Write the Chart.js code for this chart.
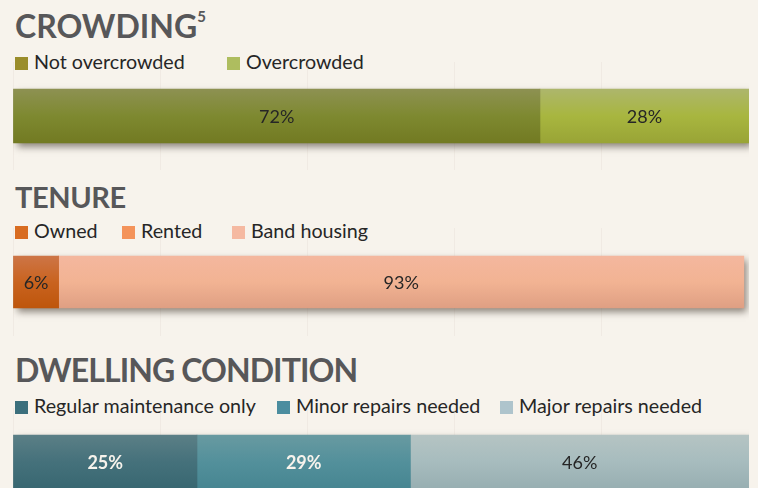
<!DOCTYPE html>
<html>
<head>
<meta charset="utf-8">
<script src="https://cdn.jsdelivr.net/npm/chart.js@4.4.1/dist/chart.umd.min.js"></script>
<style>
html, body { margin: 0; padding: 0; background: #f7f3ec; width: 758px; height: 488px; overflow: hidden; }
body { position: relative; font-family: Lato, "Open Sans", sans-serif; }
.wrap { position: absolute; left: 13px; width: 736px; height: 108px; }
.wrap canvas { display: block; }
h2 { position: absolute; left: 15px; margin: 0; font-weight: 700; color: #575759; white-space: nowrap; line-height: 1; }
h2 sup { font-size: 15px; position: relative; top: -4px; }
.legend { position: absolute; left: 0; width: 758px; height: 22px; font-size: 19.7px; color: #262626; line-height: 22px; }
.legend span { position: absolute; top: 0; white-space: nowrap; }
.legend i { display: inline-block; width: 13px; height: 13px; margin-right: 6px; vertical-align: -1px; }
</style>
</head>
<body>

<h2 id="h1" style="top:10px;font-size:32px">CROWDING<sup>5</sup></h2>
<div class="legend" id="lg1" style="top:51px"></div>
<div class="wrap" style="top:62px"><canvas id="c1" width="736" height="108"></canvas></div>

<h2 id="h2" style="top:182px;font-size:29px;letter-spacing:-0.4px">TENURE</h2>
<div class="legend" id="lg2" style="top:220px"></div>
<div class="wrap" style="top:228px"><canvas id="c2" width="736" height="108"></canvas></div>

<h2 id="h3" style="top:354px;font-size:32px;letter-spacing:-0.9px">DWELLING CONDITION</h2>
<div class="legend" id="lg3" style="top:395px"></div>
<div class="wrap" style="top:408px"><canvas id="c3" width="736" height="108"></canvas></div>

<script>
// values (percent of households)
const crowdingLabels = ['Not overcrowded', 'Overcrowded'];
const crowdingValues = [71.6, 28.4];

const tenureLabels = ['Owned', 'Rented', 'Band housing'];
const tenureValues = [6.2, 0, 93.1];

const conditionLabels = ['Regular maintenance only', 'Minor repairs needed', 'Major repairs needed'];
const conditionValues = [25, 29, 46];

// colours: legend swatch, and top / middle / bottom of each bar segment
const crowdingSwatch = ['#9a8d2b', '#aebd5f'];
const crowdingShade = [['#8d9152', '#7e8930', '#727a22'], ['#adb66c', '#a8b63f', '#99a436']];
const tenureSwatch = ['#d86c21', '#f4935a', '#f5b9a1'];
const tenureShade = [['#cd7546', '#c9631f', '#be560c'], ['#f6a06c', '#f4935a', '#e5824a'], ['#f4b79e', '#f2b393', '#df9f83']];
const conditionSwatch = ['#3b6f7c', '#4b8d9f', '#aec4cc'];
const conditionShade = [['#5b7f86', '#45717b', '#386771'], ['#689aa1', '#53909b', '#468591'], ['#b5c4c3', '#a7bcbe', '#97aeb1']];

function buildLegend(id, labels, colors, lefts) {
    const el = document.getElementById(id);
    labels.forEach((l, i) => {
        const s = document.createElement('span');
        s.style.left = lefts[i] + 'px';
        s.innerHTML = '<i style="background:' + colors[i] + '"></i>' + l;
        el.appendChild(s);
    });
}

buildLegend('lg1', crowdingLabels, crowdingSwatch, [15, 227]);
buildLegend('lg2', tenureLabels, tenureSwatch, [15, 122, 232]);
buildLegend('lg3', conditionLabels, conditionSwatch, [15, 277, 500]);

// soft drop shadow behind the whole stacked bar
const barShadow = {
    id: 'barShadow',
    beforeDatasetsDraw(chart) {
        let left = Infinity, right = -Infinity, top = 0, bottom = 0;
        chart.data.datasets.forEach((ds, i) => {
            chart.getDatasetMeta(i).data.forEach(el => {
                const p = el.getProps(['x', 'y', 'base', 'height'], true);
                left = Math.min(left, p.base, p.x);
                right = Math.max(right, p.base, p.x);
                top = p.y - p.height / 2;
                bottom = p.y + p.height / 2;
            });
        });
        const c = chart.ctx;
        c.save();
        c.shadowColor = 'rgba(70,60,50,0.6)';
        c.shadowBlur = 7;
        c.shadowOffsetX = 3;
        c.shadowOffsetY = 4;
        c.fillStyle = '#888';
        c.fillRect(left, top, right - left, bottom - top);
        c.restore();
    }
};

// percentage text in the middle of each segment
const segLabels = {
    id: 'segLabels',
    afterDatasetsDraw(chart, args, opts) {
        const c = chart.ctx;
        c.save();
        c.textAlign = 'center';
        c.textBaseline = 'middle';
        chart.data.datasets.forEach((ds, i) => {
            chart.getDatasetMeta(i).data.forEach((el, j) => {
                const v = ds.data[j];
                if (!v) return;
                const p = el.getCenterPoint();
                const st = opts.styles[i];
                c.font = st.font;
                c.fillStyle = st.color;
                c.fillText(Math.round(v) + '%', p.x, p.y + 1);
            });
        });
        c.restore();
    }
};

function makeBar(id, labels, values, shades, thickness, styles) {
    const datasets = labels.map((l, i) => ({
        label: l,
        data: [values[i]],
        barThickness: thickness,
        borderWidth: 0,
        backgroundColor: (context) => {
            const chart = context.chart;
            if (!chart.chartArea) return shades[i][1];
            const mid = (chart.chartArea.top + chart.chartArea.bottom) / 2;
            const g = chart.ctx.createLinearGradient(0, mid - thickness / 2, 0, mid + thickness / 2);
            g.addColorStop(0, shades[i][0]);
            g.addColorStop(0.5, shades[i][1]);
            g.addColorStop(1, shades[i][2]);
            return g;
        }
    }));

    new Chart(document.getElementById(id), {
        type: 'bar',
        data: { labels: [''], datasets: datasets },
        options: {
            indexAxis: 'y',
            responsive: false,
            animation: false,
            layout: { padding: 0 },
            scales: {
                x: {
                    stacked: true, min: 0, max: 100,
                    ticks: { display: false, stepSize: 20 },
                    grid: { color: 'rgba(225,215,205,0.3)', drawTicks: false },
                    border: { display: false }
                },
                y: { stacked: true, display: false }
            },
            plugins: {
                legend: { display: false },
                tooltip: { enabled: false },
                segLabels: { styles: styles }
            }
        },
        plugins: [barShadow, segLabels]
    });
}

const plain = { font: '18px Lato', color: '#262626' };
const strong = { font: 'bold 18px Lato', color: '#f7f3ec' };

makeBar('c1', crowdingLabels, crowdingValues, crowdingShade, 54, [plain, plain]);
makeBar('c2', tenureLabels, tenureValues, tenureShade, 52, [plain, plain, plain]);
makeBar('c3', conditionLabels, conditionValues, conditionShade, 54, [strong, strong, plain]);
</script>
</body>
</html>
